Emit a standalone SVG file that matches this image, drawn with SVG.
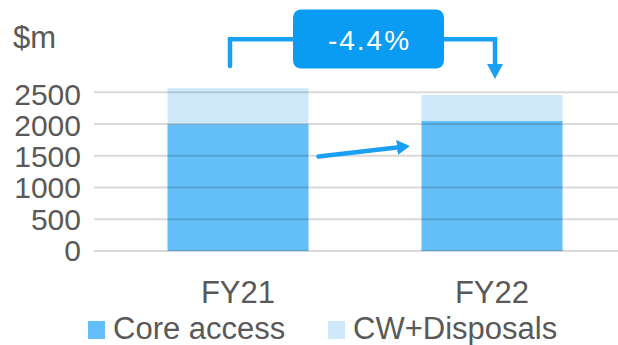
<svg xmlns="http://www.w3.org/2000/svg" width="618" height="345" viewBox="0 0 618 345">
<style>
.lbl{font-family:"Liberation Sans",Arial,sans-serif;font-size:31px;fill:#595959}
.ax{text-anchor:end;font-size:30px}
.mid{text-anchor:middle}
.core{fill:#64bff8}
.cw{fill:#cfe9fb}
.grid{stroke:#000;stroke-opacity:0.15;stroke-width:2}
.conn{fill:none;stroke:#1aa0f2;stroke-width:4.5;stroke-linecap:round;stroke-linejoin:miter}
.badge{font-family:"Liberation Sans",Arial,sans-serif;font-size:28px;letter-spacing:2px;fill:#fff;text-anchor:middle}
</style>
<defs>
<marker id="ah" markerUnits="userSpaceOnUse" markerWidth="16" markerHeight="16" refX="0" refY="8" orient="auto" viewBox="0 0 16 16">
<path d="M0,0 L15,8 L0,16 z" fill="#1aa0f2"/>
</marker>
<marker id="ah2" markerUnits="userSpaceOnUse" markerWidth="14" markerHeight="15" refX="0" refY="7.5" orient="auto" viewBox="0 0 14 15">
<path d="M0,0 L13,7.5 L0,15 z" fill="#1aa0f2"/>
</marker>
</defs>
<rect width="618" height="345" fill="#fff"/>
<g id="axis-unit"><text class="lbl" x="13" y="48">$m</text></g>
<g id="y-axis">
<text class="lbl ax" x="81" y="104.5">2500</text>
<text class="lbl ax" x="81" y="135.8">2000</text>
<text class="lbl ax" x="81" y="167.1">1500</text>
<text class="lbl ax" x="81" y="198.4">1000</text>
<text class="lbl ax" x="81" y="229.7">500</text>
<text class="lbl ax" x="81" y="261">0</text>
</g>
<g id="bar-FY21">
<rect class="cw" x="167.5" y="88.3" width="141" height="36"/>
<rect class="core" x="167.5" y="124.3" width="141" height="126.7"/>
</g>
<g id="bar-FY22">
<rect class="cw" x="421.5" y="95" width="141" height="26"/>
<rect class="core" x="421.5" y="121" width="141" height="130"/>
</g>
<g id="gridlines">
<line class="grid" x1="94" y1="92.3" x2="618" y2="92.3"/>
<line class="grid" x1="94" y1="124" x2="618" y2="124"/>
<line class="grid" x1="94" y1="155.8" x2="618" y2="155.8"/>
<line class="grid" x1="94" y1="187.5" x2="618" y2="187.5"/>
<line class="grid" x1="94" y1="219.3" x2="618" y2="219.3"/>
<line class="grid" x1="94" y1="251" x2="618" y2="251"/>
</g>
<g id="connectors">
<path class="conn" d="M230,66 V39.3 H495 V64" marker-end="url(#ah)"/>
<path class="conn" d="M318.5,156.5 L397,147.5" marker-end="url(#ah2)"/>
</g>
<g id="change-badge">
<rect x="293" y="9.5" width="151" height="59" rx="8" fill="#0a9bf2"/>
<text class="badge" x="369.5" y="50">-4.4%</text>
</g>
<g id="x-axis">
<text class="lbl mid" x="238" y="303">FY21</text>
<text class="lbl mid" x="492" y="303">FY22</text>
</g>
<g id="legend">
<rect class="core" x="88" y="321" width="17" height="18"/>
<text class="lbl" x="113" y="339">Core access</text>
<rect class="cw" x="328" y="321" width="17" height="18"/>
<text class="lbl" x="353" y="339">CW+Disposals</text>
</g>
</svg>
